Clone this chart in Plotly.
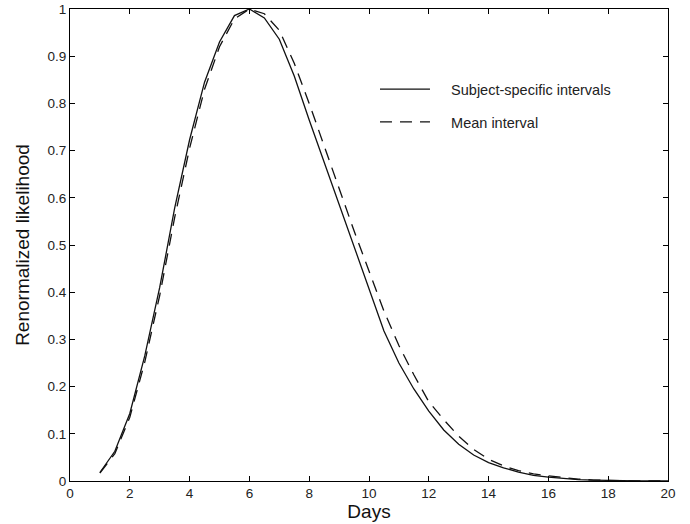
import plotly.graph_objects as go

days = [1, 1.5, 2, 2.5, 3, 3.5, 4, 4.5, 5, 5.5, 6, 6.5, 7, 7.5, 8, 8.5, 9, 9.5, 10,
        10.5, 11, 11.5, 12, 12.5, 13, 13.5, 14, 14.5, 15, 15.5, 16, 16.5, 17, 17.5,
        18, 18.5, 19, 19.5, 20]

subject_specific = [0.018, 0.063, 0.143, 0.265, 0.41, 0.578, 0.723, 0.845, 0.93, 0.986,
                    1.0, 0.981, 0.936, 0.858, 0.765, 0.675, 0.585, 0.495, 0.405,
                    0.318, 0.25, 0.195, 0.148, 0.108, 0.078, 0.055, 0.039, 0.028,
                    0.019, 0.012, 0.008, 0.005, 0.003, 0.002, 0.001, 0.0005, 0.0,
                    0.0, 0.0]

mean_interval = [0.017, 0.058, 0.135, 0.252, 0.393, 0.558, 0.705, 0.83, 0.92, 0.979,
                 1.0, 0.99, 0.955, 0.885, 0.80, 0.71, 0.62, 0.53, 0.445,
                 0.36, 0.287, 0.225, 0.168, 0.13, 0.095, 0.067, 0.046, 0.032,
                 0.022, 0.015, 0.011, 0.007, 0.004, 0.002, 0.001, 0.0005, 0.0,
                 0.0, 0.0]

x_ticks = [0, 2, 4, 6, 8, 10, 12, 14, 16, 18, 20]
y_ticks = [0, 0.1, 0.2, 0.3, 0.4, 0.5, 0.6, 0.7, 0.8, 0.9, 1]
y_tick_labels = ["0", "0.1", "0.2", "0.3", "0.4", "0.5", "0.6", "0.7", "0.8", "0.9", "1"]

FONT = "Liberation Sans, Arial, sans-serif"
pad = "\u00a0" * 4

fig = go.Figure()
fig.add_trace(go.Scatter(x=days, y=subject_specific, mode="lines",
                         name=pad + "Subject-specific intervals", legendgroup="a",
                         line=dict(color="#111111", width=1.3)))
fig.add_trace(go.Scatter(x=days, y=mean_interval, mode="lines",
                         name=pad + "Mean interval", legendgroup="b",
                         line=dict(color="#111111", width=1.3, dash="12px,8px")))

axis_common = dict(showgrid=False, zeroline=False, showline=True, linecolor="black",
                   linewidth=1.2, mirror="ticks", ticks="inside", ticklen=5,
                   tickcolor="black", tickwidth=1, automargin=False,
                   tickfont=dict(family=FONT, size=13.5, color="#222"))

fig.update_xaxes(range=[0, 20], tickvals=x_ticks, ticktext=[str(v) for v in x_ticks],
                 title=dict(text="Days", font=dict(family=FONT, size=19, color="#111"),
                            standoff=4),
                 **axis_common)
fig.update_yaxes(range=[0, 1], tickvals=y_ticks, ticktext=y_tick_labels,
                 title=dict(text="Renormalized likelihood",
                            font=dict(family=FONT, size=19, color="#111"), standoff=12),
                 **axis_common)

fig.update_layout(
    width=690, height=524,
    margin=dict(l=70, r=22, t=9, b=43),
    paper_bgcolor="white", plot_bgcolor="white",
    showlegend=True,
    legend=dict(x=0.51, y=0.864, xanchor="left", yanchor="top",
                bgcolor="rgba(0,0,0,0)", borderwidth=0,
                font=dict(family=FONT, size=14.5, color="#222"),
                traceorder="grouped", tracegroupgap=11, itemwidth=50),
)

fig.write_html("out.html", config={"displayModeBar": False},
               post_script="document.body.style.margin='0';")
